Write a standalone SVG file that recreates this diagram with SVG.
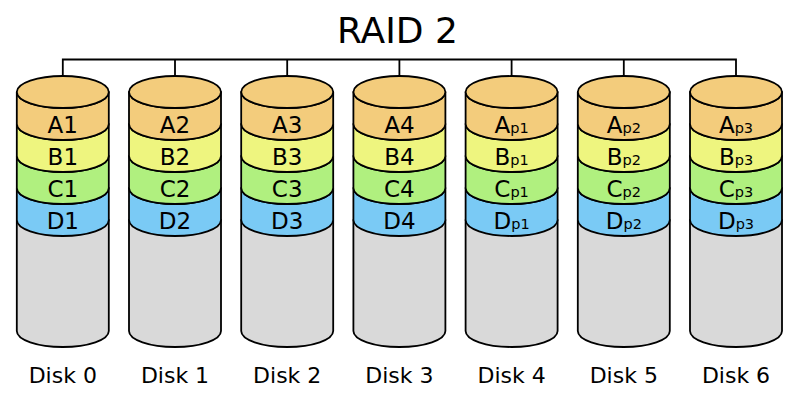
<svg xmlns="http://www.w3.org/2000/svg" xmlns:xlink="http://www.w3.org/1999/xlink" width="800" height="400" viewBox="0 0 800 400">
<style>
.s{stroke:#000;stroke-width:1.8;stroke-linejoin:round}
.a{fill:#f3cc7c}.b{fill:#eef57f}.c{fill:#b0f07f}.d{fill:#7acaf5}.g{fill:#d9d9d9}
text{font-family:"DejaVu Sans","Liberation Sans",sans-serif;fill:#000;text-anchor:middle}
.lbl{font-size:23px}
.dl{font-size:22px}
.sub{font-size:14.5px}
.title{font-size:36px}
.conn{fill:none;stroke:#000;stroke-width:1.8}
</style>
<defs>
<g id="cyl">
<path class="s g" d="M-46,220 V331 A46,16 0 0 0 46,331 V220 Z"/>
<path class="s d" d="M-46,188 V220 A46,16 0 0 0 46,220 V188 A46,16 0 0 1 -46,188 Z"/>
<path class="s c" d="M-46,156 V188 A46,16 0 0 0 46,188 V156 A46,16 0 0 1 -46,156 Z"/>
<path class="s b" d="M-46,124 V156 A46,16 0 0 0 46,156 V124 A46,16 0 0 1 -46,124 Z"/>
<path class="s a" d="M-46,92 V124 A46,16 0 0 0 46,124 V92 A46,16 0 0 1 -46,92 Z"/>
<ellipse class="s a" cx="0" cy="92" rx="46" ry="16"/>
</g>
</defs>
<text class="title" x="397.5" y="43.3">RAID 2</text>
<g id="connectors">
<path class="conn" d="M62.8,91 V59.5 H736 V91 M175,59.5 V91 M287.2,59.5 V91 M399.4,59.5 V91 M511.6,59.5 V91 M623.8,59.5 V91"/>
</g>
<g id="disk0" transform="translate(62.8,0)">
<use xlink:href="#cyl"/>
<text class="lbl" y="132.5">A1</text><text class="lbl" y="164.5">B1</text><text class="lbl" y="196.5">C1</text><text class="lbl" y="228.5">D1</text>
<text class="dl" y="383">Disk 0</text>
</g>
<g id="disk1" transform="translate(175,0)">
<use xlink:href="#cyl"/>
<text class="lbl" y="132.5">A2</text><text class="lbl" y="164.5">B2</text><text class="lbl" y="196.5">C2</text><text class="lbl" y="228.5">D2</text>
<text class="dl" y="383">Disk 1</text>
</g>
<g id="disk2" transform="translate(287.2,0)">
<use xlink:href="#cyl"/>
<text class="lbl" y="132.5">A3</text><text class="lbl" y="164.5">B3</text><text class="lbl" y="196.5">C3</text><text class="lbl" y="228.5">D3</text>
<text class="dl" y="383">Disk 2</text>
</g>
<g id="disk3" transform="translate(399.4,0)">
<use xlink:href="#cyl"/>
<text class="lbl" y="132.5">A4</text><text class="lbl" y="164.5">B4</text><text class="lbl" y="196.5">C4</text><text class="lbl" y="228.5">D4</text>
<text class="dl" y="383">Disk 3</text>
</g>
<g id="disk4" transform="translate(511.6,0)">
<use xlink:href="#cyl"/>
<text class="lbl" y="132.5">A<tspan class="sub">p1</tspan></text><text class="lbl" y="164.5">B<tspan class="sub">p1</tspan></text><text class="lbl" y="196.5">C<tspan class="sub">p1</tspan></text><text class="lbl" y="228.5">D<tspan class="sub">p1</tspan></text>
<text class="dl" y="383">Disk 4</text>
</g>
<g id="disk5" transform="translate(623.8,0)">
<use xlink:href="#cyl"/>
<text class="lbl" y="132.5">A<tspan class="sub">p2</tspan></text><text class="lbl" y="164.5">B<tspan class="sub">p2</tspan></text><text class="lbl" y="196.5">C<tspan class="sub">p2</tspan></text><text class="lbl" y="228.5">D<tspan class="sub">p2</tspan></text>
<text class="dl" y="383">Disk 5</text>
</g>
<g id="disk6" transform="translate(736,0)">
<use xlink:href="#cyl"/>
<text class="lbl" y="132.5">A<tspan class="sub">p3</tspan></text><text class="lbl" y="164.5">B<tspan class="sub">p3</tspan></text><text class="lbl" y="196.5">C<tspan class="sub">p3</tspan></text><text class="lbl" y="228.5">D<tspan class="sub">p3</tspan></text>
<text class="dl" y="383">Disk 6</text>
</g>
</svg>
